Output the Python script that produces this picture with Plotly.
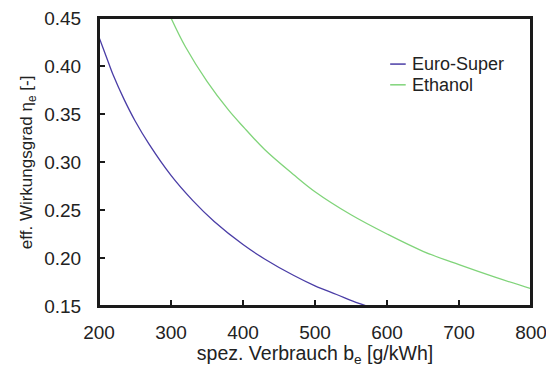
import plotly.graph_objects as go

b_super = [200, 210, 220, 235, 250, 270, 300, 330, 360, 400, 430, 470, 500, 530, 560, 572]
eta_super = [0.430, 0.410, 0.390, 0.365, 0.343, 0.318, 0.286, 0.260, 0.238, 0.214, 0.199, 0.182, 0.171, 0.162, 0.153, 0.150]

b_eth = [300, 320, 350, 380, 400, 430, 470, 500, 550, 600, 650, 700, 750, 800]
eta_eth = [0.450, 0.420, 0.384, 0.354, 0.337, 0.313, 0.287, 0.269, 0.245, 0.225, 0.207, 0.193, 0.180, 0.168]

series_names = ["Euro-Super", "Ethanol"]
series_colors = ["#4a3da6", "#80d47a"]

x_ticks = [200, 300, 400, 500, 600, 700, 800]
y_ticks = [0.15, 0.20, 0.25, 0.30, 0.35, 0.40, 0.45]
y_labels = ["0.15", "0.20", "0.25", "0.30", "0.35", "0.40", "0.45"]

x_title = "spez. Verbrauch b<sub>e</sub> [g/kWh]"
y_title = "eff. Wirkungsgrad η<sub>e</sub> [-]"

fig = go.Figure()
for xs, ys, name, col in zip([b_super, b_eth], [eta_super, eta_eth], series_names, series_colors):
    fig.add_trace(go.Scatter(x=xs, y=ys, mode="lines", name=name, showlegend=False,
                             line=dict(color=col, width=1.3, shape="spline")))

axis_common = dict(showline=True, linecolor="#1a1a1a", linewidth=2, mirror=True,
                   ticks="inside", ticklen=6, tickwidth=1.5, tickcolor="#1a1a1a",
                   showgrid=False, zeroline=False, automargin=False,
                   ticklabeloverflow="allow",
                   tickfont=dict(family="Liberation Sans, Arial", size=19, color="#222"))

# compact legend (short line + label), placed in plot-area fractions
legend_y = [0.84, 0.768]
shapes = [dict(type="rect", xref="paper", yref="paper", x0=0, x1=1, y0=0, y1=1,
               line=dict(color="#1a1a1a", width=2), fillcolor="rgba(0,0,0,0)", layer="above")]
annotations = []
for name, col, ly in zip(series_names, series_colors, legend_y):
    shapes.append(dict(type="line", xref="paper", yref="paper", x0=0.674, x1=0.710,
                       y0=ly, y1=ly, line=dict(color=col, width=1.5)))
    annotations.append(dict(xref="paper", yref="paper", x=0.720, y=ly, text=name,
                            showarrow=False, xanchor="left", yanchor="middle",
                            font=dict(size=18, color="#222")))

# y-axis title as a rotated annotation, centred on the plot height
annotations.append(dict(xref="paper", yref="paper", x=-0.164, y=0.5, text=y_title,
                        textangle=-90, showarrow=False, xanchor="center", yanchor="middle",
                        font=dict(size=17, color="#222")))

fig.update_layout(
    width=546, height=367,
    margin=dict(l=99, r=15, t=18, b=61),
    plot_bgcolor="white", paper_bgcolor="white",
    font=dict(family="Liberation Sans, Arial", size=19, color="#222"),
    xaxis=dict(range=[200, 800], tickvals=x_ticks, ticklabelstandoff=8,
               title=dict(text=x_title, standoff=4, font=dict(size=19.5)),
               **axis_common),
    yaxis=dict(range=[0.15, 0.45], tickvals=y_ticks, ticktext=y_labels,
               ticklabelstandoff=12,
               **axis_common),
    shapes=shapes,
    annotations=annotations,
    showlegend=False,
)

# remove the browser's default 8px body margin so the figure fills the window exactly
fig.write_html("out.html", config={"displayModeBar": False},
               post_script="document.body.style.margin='0';document.body.style.overflow='hidden';")
